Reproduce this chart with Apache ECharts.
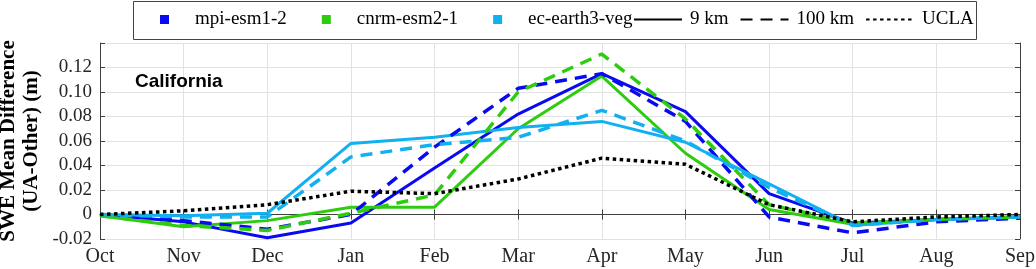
<!DOCTYPE html>
<html>
<head>
<meta charset="utf-8">
<script src="https://cdn.jsdelivr.net/npm/echarts@6/dist/echarts.min.js"></script>
<style>
html,body{margin:0;padding:0;background:#fff;}
#chart{width:1036px;height:269px;}
</style>
</head>
<body>
<div id="chart"></div>
<script>
var months = ['Oct','Nov','Dec','Jan','Feb','Mar','Apr','May','Jun','Jul','Aug','Sep'];
var yTicks = [-0.02, 0, 0.02, 0.04, 0.06, 0.08, 0.10, 0.12];
var mpi9    = [0, -0.006, -0.019, -0.007, 0.038, 0.082, 0.115, 0.084, 0.017, -0.007, -0.004, -0.002];
var mpi100  = [0, -0.005, -0.012, 0.000, 0.055, 0.103, 0.115, 0.076, -0.002, -0.015, -0.006, -0.003];
var cnrm9   = [-0.001, -0.010, -0.005, 0.006, 0.006, 0.070, 0.113, 0.050, 0.004, -0.008, -0.004, -0.002];
var cnrm100 = [-0.001, -0.009, -0.013, 0.001, 0.016, 0.100, 0.131, 0.078, 0.008, -0.007, -0.004, -0.002];
var ec9     = [0, -0.001, 0.001, 0.058, 0.063, 0.071, 0.076, 0.059, 0.025, -0.009, -0.004, -0.002];
var ec100   = [0, -0.002, -0.002, 0.047, 0.057, 0.063, 0.085, 0.060, 0.022, -0.009, -0.004, -0.002];
var ucla    = [0, 0.003, 0.008, 0.019, 0.017, 0.029, 0.046, 0.041, 0.008, -0.006, -0.002, 0.000];

var BLUE = '#0a0af0', GREEN = '#2ecc0f', CYAN = '#12b0f0', BLACK = '#000000';
var serif = '"Liberation Serif", "Times New Roman", serif';
var sans = '"Liberation Sans", Arial, sans-serif';

function line(name, data, color, type, width, z) {
  return {
    name: name, type: 'line', data: data, symbol: 'none', z: z || 2,
    lineStyle: { color: color, width: width, type: type },
    itemStyle: { color: color }, silent: true, animation: false
  };
}

var chart = echarts.init(document.getElementById('chart'), null, {renderer: 'canvas'});
var option = {
  animation: false,
  title: {
    text: 'California', left: 130, top: 67,
    textStyle: { fontFamily: sans, fontWeight: 'bold', fontSize: 19, color: '#000' }
  },
  graphic: [{
    type: 'rect', z: 0, silent: true,
    shape: { x: 133.5, y: 1.5, width: 843, height: 38 },
    style: { fill: 'none', stroke: '#444', lineWidth: 1 }
  }],
  legend: [{
    data: ['mpi-esm1-2', 'cnrm-esm2-1', 'ec-earth3-veg'],
    left: 160, top: 10, padding: 0, itemGap: 35,
    icon: 'rect', itemWidth: 9, itemHeight: 9,
    selectedMode: false,
    textStyle: { fontFamily: serif, fontSize: 19, color: '#000', padding: [0, 0, 0, 21] }
  }, {
    data: ['9 km', '100 km', 'UCLA'],
    left: 633, top: 10, padding: 0, itemGap: 11,
    itemWidth: 48, itemHeight: 14,
    selectedMode: false,
    itemStyle: { opacity: 0, color: 'rgba(0,0,0,0)', borderWidth: 0 },
    textStyle: { fontFamily: serif, fontSize: 19, color: '#000', padding: [0, 0, 0, 3] }
  }],
  grid: { left: 100, top: 43, width: 920, height: 196, containLabel: false, outerBoundsMode: 'none' },
  xAxis: [{
    type: 'category', data: months, boundaryGap: false,
    axisLine: { lineStyle: { color: '#404040', width: 1 } },
    axisTick: { inside: true, length: 5, lineStyle: { color: '#404040' } },
    axisLabel: { fontFamily: serif, fontSize: 20, color: '#262626', margin: 8 },
    splitLine: { show: true, lineStyle: { color: '#e2e2e2', width: 1 } }
  }, {
    type: 'category', data: months, boundaryGap: false, position: 'top',
    axisLine: { lineStyle: { color: '#404040', width: 1 } },
    axisTick: { inside: true, length: 5, lineStyle: { color: '#404040' } },
    axisLabel: { show: false }, splitLine: { show: false }
  }],
  yAxis: [{
    type: 'value', min: -0.02, max: 0.14, interval: 0.02,
    name: 'SWE Mean Difference\n(UA-Other) (m)',
    nameLocation: 'middle', nameGap: 57, nameRotate: 90, nameMoveOverlap: false,
    nameTextStyle: { fontFamily: serif, fontWeight: 'bold', fontSize: 21, color: '#000', lineHeight: 23 },
    axisLine: { show: true, lineStyle: { color: '#404040', width: 1 } },
    axisTick: { show: true, inside: true, length: 5, lineStyle: { color: '#404040' } },
    axisLabel: {
      fontFamily: serif, fontSize: 19, color: '#262626', margin: 8,
      formatter: function (v) {
        var r = Math.round(v * 100) / 100;
        if (yTicks.indexOf(r) < 0) return '';
        return r === 0 ? '0' : r.toFixed(2);
      }
    },
    splitLine: { show: true, lineStyle: { color: '#e2e2e2', width: 1 } }
  }, {
    type: 'value', min: -0.02, max: 0.14, interval: 0.02, position: 'right',
    axisLine: { show: true, lineStyle: { color: '#404040', width: 1 } },
    axisTick: { show: true, inside: true, length: 5, lineStyle: { color: '#404040' } },
    axisLabel: { show: false }, splitLine: { show: false }
  }],
  series: [
    line('mpi-esm1-2', [], BLUE, 'solid', 3),
    line('cnrm-esm2-1', [], GREEN, 'solid', 3),
    line('ec-earth3-veg', [], CYAN, 'solid', 3),
    line('9 km', [], BLACK, 'solid', 3),
    line('100 km', [], BLACK, [12, 8], 3.5),
    line('mpi-esm1-2 9 km', mpi9, BLUE, 'solid', 3, 3),
    line('cnrm-esm2-1 9 km', cnrm9, GREEN, 'solid', 3, 3),
    line('ec-earth3-veg 9 km', ec9, CYAN, 'solid', 3, 3),
    line('mpi-esm1-2 100 km', mpi100, BLUE, [12, 8], 3.5, 4),
    line('cnrm-esm2-1 100 km', cnrm100, GREEN, [12, 8], 3.5, 4),
    line('ec-earth3-veg 100 km', ec100, CYAN, [12, 8], 3.5, 4),
    line('UCLA', ucla, BLACK, [3.5, 3.5], 3.5, 5)
  ]
};
chart.setOption(option);
</script>
</body>
</html>
